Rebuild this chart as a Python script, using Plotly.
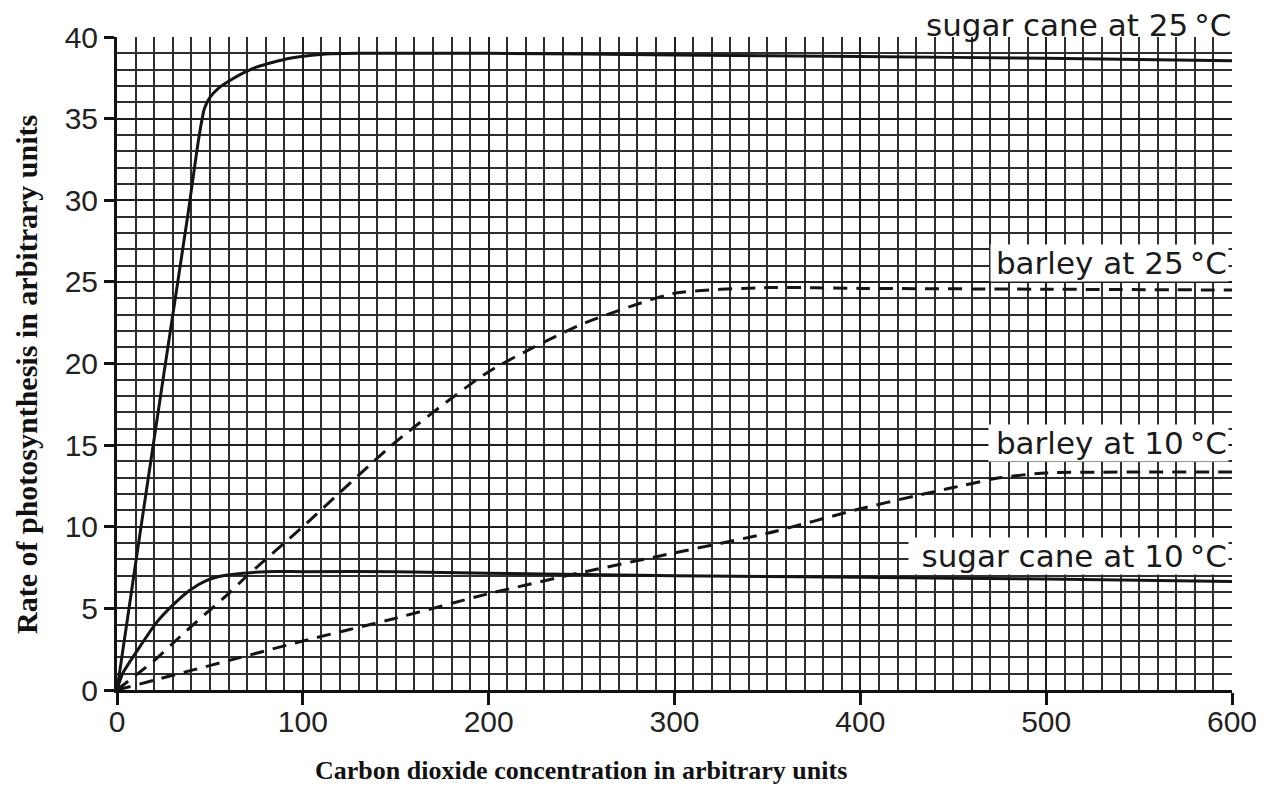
import plotly.graph_objects as go

# --- data ---
sugar25_x = [0, 12, 25, 38, 44, 47, 50, 55, 61, 68, 75, 84, 93, 111, 130, 200, 300, 400, 500, 600]
sugar25_y = [0, 9.3, 19.2, 29.0, 33.8, 35.6, 36.3, 36.9, 37.35, 37.8, 38.15, 38.45, 38.7, 38.95, 39.0, 39.0, 38.9, 38.8, 38.7, 38.55]

barley25_x = [0, 10, 20, 30, 40, 50, 60, 70, 80, 90, 100, 150, 200, 250, 300, 350, 400, 500, 600]
barley25_y = [0, 0.9, 1.8, 2.85, 3.9, 4.9, 5.9, 7.0, 8.0, 9.0, 10.0, 15.2, 19.5, 22.4, 24.3, 24.65, 24.6, 24.55, 24.5]

barley10_x = [0, 20, 40, 60, 100, 150, 200, 250, 300, 350, 400, 430, 450, 475, 500, 550, 600]
barley10_y = [0, 0.6, 1.2, 1.8, 3.0, 4.4, 5.9, 7.2, 8.4, 9.6, 11.1, 11.9, 12.4, 13.0, 13.3, 13.35, 13.35]

sugar10_x = [0, 3, 12, 21, 30, 39, 48, 57, 68, 80, 100, 150, 200, 300, 400, 500, 600]
sugar10_y = [0, 1.0, 2.6, 4.1, 5.2, 6.1, 6.7, 7.0, 7.15, 7.25, 7.25, 7.25, 7.15, 7.0, 6.9, 6.8, 6.65]

x_ticks = [0, 100, 200, 300, 400, 500, 600]
y_ticks = [0, 5, 10, 15, 20, 25, 30, 35, 40]

labels = ["sugar cane at 25\u2009°C", "barley at 25\u2009°C", "barley at 10\u2009°C", "sugar cane at 10\u2009°C"]
label_y = [None, 26.15, 15.1, 8.2]

# page is offset by the 8px body margin
OFF = 8
W, H = 1264 - 2 * OFF, 792 - 2 * OFF
ML, MT = 117 - OFF, 37 - OFF
MR = W - (1232 - OFF)
MB = H - (690 - OFF)
PW, PH = W - ML - MR, H - MT - MB

LINE = "#141414"
fig = go.Figure()
fig.add_trace(go.Scatter(x=sugar25_x, y=sugar25_y, mode="lines",
                         line=dict(color=LINE, width=3, shape="spline", smoothing=0.6)))
fig.add_trace(go.Scatter(x=barley25_x, y=barley25_y, mode="lines",
                         line=dict(color=LINE, width=3, dash="14px,9px", shape="spline", smoothing=0.6)))
fig.add_trace(go.Scatter(x=barley10_x, y=barley10_y, mode="lines",
                         line=dict(color=LINE, width=3, dash="14px,9px", shape="spline", smoothing=0.6)))
fig.add_trace(go.Scatter(x=sugar10_x, y=sugar10_y, mode="lines",
                         line=dict(color=LINE, width=3, shape="spline", smoothing=0.6)))

tick_font = dict(family="Liberation Sans, Arial, sans-serif", size=30, color="#222")
fig.update_xaxes(range=[0, 600], tickvals=x_ticks, ticktext=[str(v) for v in x_ticks],
                 showgrid=True, gridcolor="#1e1e1e", gridwidth=2.4,
                 minor=dict(dtick=10, showgrid=True, gridcolor="#2e2e2e", gridwidth=1.5, ticks=""),
                 showline=True, linecolor="#111", linewidth=3,
                 ticks="outside", ticklen=12, tickwidth=2.5, tickcolor="#111",
                 tickfont=tick_font, ticklabeloverflow="allow",
                 ticklabelposition="outside", ticklabelstandoff=-9,
                 zeroline=False, fixedrange=True)
fig.update_yaxes(range=[0, 40], tickvals=y_ticks, ticktext=[str(v) for v in y_ticks],
                 showgrid=True, gridcolor="#1e1e1e", gridwidth=2.4,
                 minor=dict(dtick=1, showgrid=True, gridcolor="#2e2e2e", gridwidth=1.5, ticks=""),
                 showline=True, linecolor="#111", linewidth=3,
                 ticks="outside", ticklen=10, tickwidth=2.5, tickcolor="#111",
                 tickfont=tick_font, ticklabeloverflow="allow",
                 zeroline=False, fixedrange=True)

ann_font = dict(family="DejaVu Sans, sans-serif", size=31, color="#1a1a1a")
box_left = [None, 992, 990, 910]
right_px = ML + PW - 3
annotations = []
for i, (t, yv) in enumerate(zip(labels, label_y)):
    a = dict(text=t, x=1, xref="paper", xanchor="right", xshift=-3,
             showarrow=False, font=ann_font, bgcolor="white", borderpad=1, align="right")
    if yv is None:
        a.update(y=1 + (MT - (25 - OFF)) / PH, yref="paper", yanchor="middle",
                 borderpad=0, xshift=0, bgcolor="rgba(0,0,0,0)")
    else:
        a.update(y=yv, yref="y", yanchor="middle")
        a["width"] = right_px - (box_left[i] - OFF) - 2
        a["height"] = 34
    annotations.append(a)

annotations.append(dict(text="<b>Carbon dioxide concentration in arbitrary units</b>",
                        x=(581 - OFF - ML) / PW, xref="paper", y=-((770 - OFF) - (MT + PH)) / PH, yref="paper",
                        xanchor="center", yanchor="middle", showarrow=False, borderpad=0,
                        font=dict(family="Liberation Serif, Times New Roman, serif", size=26, color="#111")))
annotations.append(dict(text="<b>Rate of photosynthesis in arbitrary units</b>",
                        x=((27 - OFF) - ML) / PW, xref="paper", y=((MT + PH) - (375 - OFF)) / PH, yref="paper",
                        xanchor="center", yanchor="middle", showarrow=False, textangle=-90, borderpad=0,
                        font=dict(family="Liberation Serif, Times New Roman, serif", size=30, color="#111")))

fig.update_layout(width=W, height=H, margin=dict(l=ML, r=MR, t=MT, b=MB, autoexpand=False),
                  paper_bgcolor="white", plot_bgcolor="white", showlegend=False,
                  annotations=annotations)

fig.write_html("out.html")
